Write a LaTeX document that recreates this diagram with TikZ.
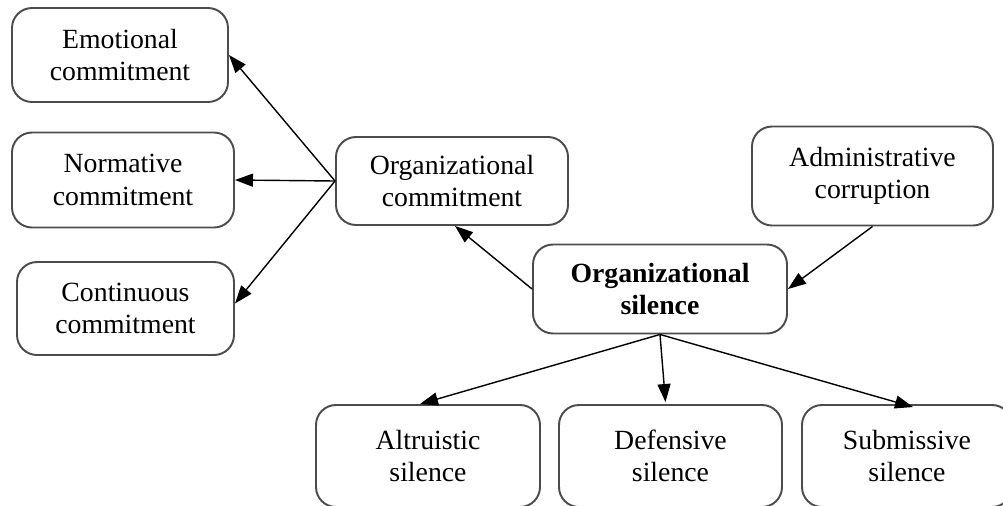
\documentclass[tikz,border=0pt]{standalone}
\usepackage{amsmath}
\usepackage{fontspec}
\setmainfont{Liberation Serif}
\usepackage{tikz}
\usetikzlibrary{arrows.meta}

\tikzset{
	box/.style={draw=black!70,line width=1.1pt,rounded corners=0.4cm,fill=white,align=center,inner sep=2pt,font=\fontsize{15.8}{18.4}\selectfont},
	arr/.style={-{Triangle[length=0.36cm,width=0.26cm]},line width=0.8pt}
}

\begin{document}
\begin{tikzpicture}
	\useasboundingbox (0,0) rectangle (20.06,-10.1);
	\clip (0,0) rectangle (20.06,-10.1);
	\node [box,minimum width=4.32cm,minimum height=1.88cm] (emo) at (2.40,-1.10) {Emotional\\commitment};
	\node [box,minimum width=4.44cm,minimum height=1.90cm] (norm) at (2.46,-3.60) {Normative\\commitment};
	\node [box,minimum width=4.34cm,minimum height=1.86cm] (cont) at (2.51,-6.17) {Continuous\\commitment};
	\node [box,minimum width=4.64cm,minimum height=1.76cm] (ocom) at (9.04,-3.62) {Organizational\\commitment};
	\node [box,minimum width=4.82cm,minimum height=1.98cm] (adm) at (17.45,-3.52) {Administrative\\corruption};
	\node [box,minimum width=5.08cm,minimum height=1.78cm] (osil) at (13.20,-5.78) {\textbf{Organizational}\\\textbf{silence}};
	\node [box,minimum width=4.48cm,minimum height=2.04cm] (alt) at (8.56,-9.12) {Altruistic\\silence};
	\node [box,minimum width=4.46cm,minimum height=2.04cm] (def) at (13.41,-9.12) {Defensive\\silence};
	\node [box,minimum width=4.20cm,minimum height=2.04cm] (sub) at (18.14,-9.12) {Submissive\\silence};

	\draw [arr] (ocom.west) -- (emo.east);
	\draw [arr] (ocom.west) -- (norm.east);
	\draw [arr] (ocom.west) -- ([yshift=0.1cm]cont.east);
	\draw [arr] (osil.west) -- ([xshift=0.06cm]ocom.south);
	\draw [arr] (adm.south) -- (osil.east);
	\draw [arr] (osil.south) -- ([xshift=-0.16cm]alt.north);
	\draw [arr] (osil.south) -- ([xshift=-0.1cm,yshift=0.04cm]def.north);
	\draw [arr] (osil.south) -- ([xshift=0.12cm,yshift=-0.06cm]sub.north);
\end{tikzpicture}
\end{document}
